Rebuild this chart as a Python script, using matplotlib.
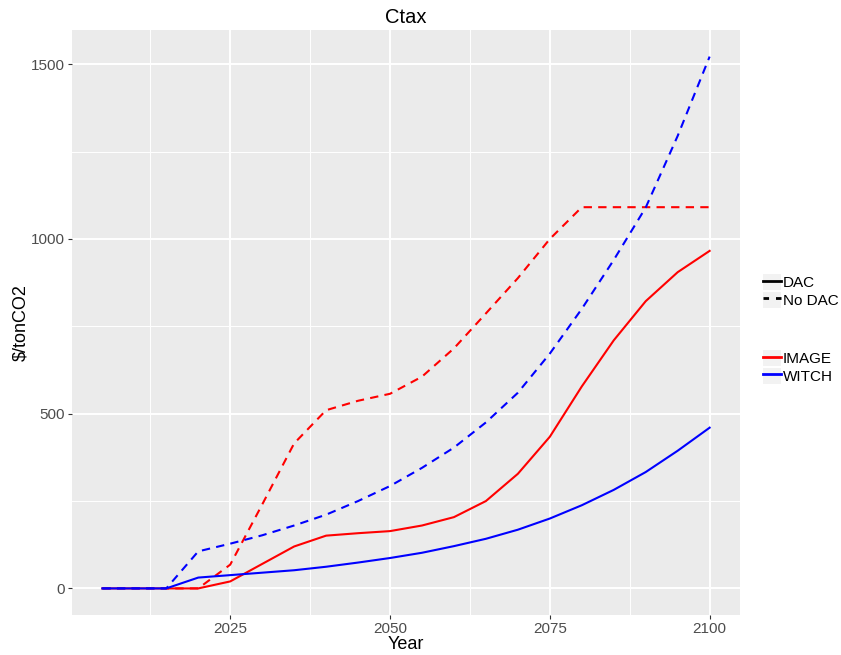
import matplotlib
matplotlib.use("Agg")
import matplotlib.pyplot as plt
from matplotlib.lines import Line2D
from matplotlib.patches import Rectangle
from matplotlib.legend_handler import HandlerTuple

plt.rcParams['font.family'] = ['Liberation Sans', 'DejaVu Sans']

years = [2005, 2010, 2015, 2020, 2025, 2030, 2035, 2040, 2045, 2050, 2055,
         2060, 2065, 2070, 2075, 2080, 2085, 2090, 2095, 2100]

image_dac = [0, 0, 0, 0, 20, 70, 120, 151, 158, 164, 180,
             204, 250, 328, 434, 578, 710, 822, 905, 966]
image_nodac = [0, 0, 0, 0, 68, 240, 415, 510, 537, 557, 606,
               687, 787, 888, 1000, 1091, 1091, 1091, 1091, 1091]
witch_dac = [0, 0, 0, 31, 38, 45, 52, 62, 74, 87, 102,
             121, 142, 168, 200, 238, 282, 333, 394, 460]
witch_nodac = [0, 0, 0, 106, 128, 152, 180, 211, 250, 293, 345,
               403, 475, 560, 672, 800, 940, 1090, 1295, 1522]

x_ticks = [2025, 2050, 2075, 2100]
x_minor = [2012.5, 2037.5, 2062.5, 2087.5]
y_ticks = [0, 500, 1000, 1500]
y_minor = [250, 750, 1250]

fig = plt.figure(figsize=(8.41, 6.55), dpi=100)
ax = fig.add_axes([72/841, 40/655, (740-72)/841, (615-30)/655])
ax.set_facecolor('#EBEBEB')
for s in ax.spines.values():
    s.set_visible(False)

ax.set_xticks(x_ticks)
ax.set_xticks(x_minor, minor=True)
ax.set_yticks(y_ticks)
ax.set_yticks(y_minor, minor=True)
ax.grid(True, which='major', color='white', lw=1.4)
ax.grid(True, which='minor', color='white', lw=0.7)
ax.set_axisbelow(True)
ax.tick_params(which='major', length=3, width=0.8, color='#333333',
               labelsize=11, labelcolor='#4D4D4D', pad=2)
ax.tick_params(which='minor', length=0)

red = '#FF0000'
blue = '#0000FF'
lw = 1.5
dash = (4, 3)
ax.plot(years, image_dac, color=red, lw=lw, solid_joinstyle='round')
ax.plot(years, image_nodac, color=red, lw=lw, dashes=dash)
ax.plot(years, witch_dac, color=blue, lw=lw, solid_joinstyle='round')
ax.plot(years, witch_nodac, color=blue, lw=lw, dashes=dash)

xr = max(years) - min(years)
ax.set_xlim(min(years) - 0.05*xr, max(years) + 0.05*xr)
yr = max(witch_nodac) - 0
ax.set_ylim(0 - 0.05*yr, max(witch_nodac) + 0.05*yr)

ax.set_xticklabels([str(t) for t in x_ticks])
ax.set_yticklabels([str(t) for t in y_ticks])

ax.set_xlabel('Year', fontsize=13, labelpad=0)
ax.set_ylabel('\\$/tonCO2', fontsize=13, labelpad=1)
ax.set_title('Ctax', fontsize=14.5, pad=5)

def key(**kw):
    bg = Rectangle((0, 0), 1, 1, facecolor='#F2F2F2', edgecolor='none')
    ln = Line2D([], [], lw=2, **kw)
    return (bg, ln)

h1 = [key(color='black'), key(color='black', dashes=(2, 2.5))]
l1 = ['DAC', 'No DAC']
h2 = [key(color=red), key(color=blue)]
l2 = ['IMAGE', 'WITCH']

common = dict(frameon=False, fontsize=11, handlelength=1.2, handleheight=1.2,
              labelspacing=0.12, handletextpad=0.1, borderaxespad=0,
              handler_map={tuple: HandlerTuple(ndivide=1, pad=0)})
leg1 = fig.legend(h1, l1, loc='center left', bbox_to_anchor=(757/841, 1 - 291/655), **common)
leg2 = fig.legend(h2, l2, loc='center left', bbox_to_anchor=(757/841, 1 - 367/655), **common)

fig.savefig('out.png', dpi=100)
